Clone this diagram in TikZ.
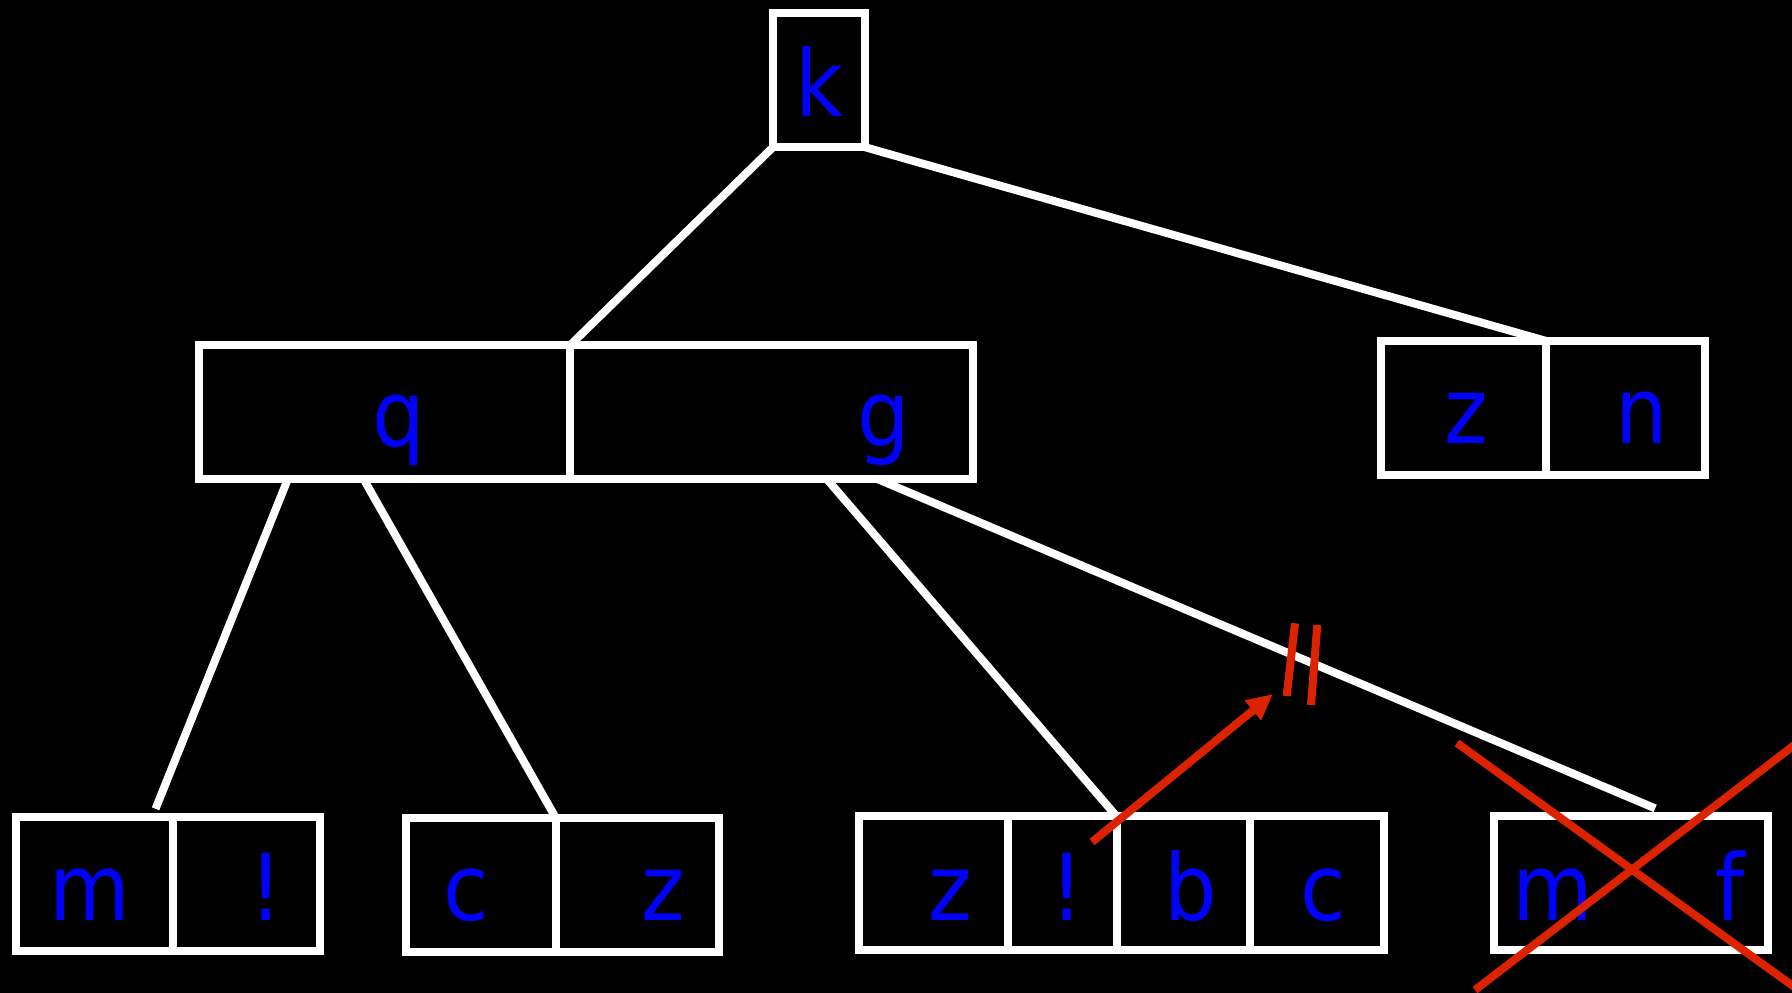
\documentclass[tikz,border=0pt]{standalone}
\usepackage{fontspec}
\setmainfont{DejaVu Sans}
\newfontfamily\treefont[FakeStretch=0.9]{DejaVu Sans}
\usetikzlibrary{arrows.meta,positioning,calc}
\definecolor{keyblue}{RGB}{0,0,255}
\definecolor{markred}{RGB}{221,34,0}

\begin{document}
\begin{tikzpicture}[
  x=1pt,y=-1pt,
  cell/.style={draw=white,line width=8pt,outer sep=0pt,inner sep=0pt,minimum height=134pt},
  key/.style={text=keyblue,font=\treefont\fontsize{92}{110}\selectfont,anchor=base,inner sep=0pt},
  edge/.style={draw=white,line width=8pt},
  redline/.style={draw=markred,line width=8pt},
  arr/.style={redline,-{Triangle[length=26pt,width=24pt]}}
]
\fill[black] (0,0) rectangle (1792,993);
\clip (0,0) rectangle (1792,993);

% ---------- root ----------
\node[cell,minimum width=92pt,minimum height=134pt] (kk) at (819,80.2) {};
\node[key] (tk) at (819,116) {k};

% ---------- second level ----------
\node[cell,minimum width=371.3pt] (q) at (384.4,412.3) {};
\node[cell,minimum width=403.2pt,right=0pt of q] (g) {};
\node[key] (tq) at (398.6,446) {q};
\node[key] (tg) at (883.3,446) {g};

\node[cell,minimum width=165.7pt] (z1) at (1463.4,408) {};
\node[cell,minimum width=158.8pt,right=0pt of z1] (n) {};
\node[key] (tz1) at (1466,443) {z};
\node[key] (tn) at (1642,443) {n};

% ---------- leaves ----------
\node[cell,minimum width=156.7pt] (m1) at (94.2,883.8) {};
\node[cell,minimum width=147.5pt,right=0pt of m1] (e1) {};
\node[key] (tm1) at (90,920) {m};
\node[key] (te1) at (265.7,920) {!};

\node[cell,minimum width=149.8pt] (c1) at (481.1,885.3) {};
\node[cell,minimum width=163.4pt,right=0pt of c1] (z2) {};
\node[key] (tc1) at (466,920) {c};
\node[key] (tz2) at (663,920) {z};

\node[cell,minimum width=148.6pt] (z3) at (933.7,883.4) {};
\node[cell,minimum width=108.6pt,right=0pt of z3] (e2) {};
\node[cell,minimum width=133.4pt,right=0pt of e2] (b) {};
\node[cell,minimum width=134pt,right=0pt of b] (c2) {};
\node[key] (tz3) at (950,920) {z};
\node[key] (te2) at (1067.5,920) {!};
\node[key] (tb) at (1190.5,920) {b};
\node[key] (tc2) at (1323,920) {c};

\node[cell,minimum width=274.2pt] (mf) at (1631.3,883.4) {};
\node[key] (tm2) at (1553,920) {m};
\node[key] (tf) at (1730,920) {f};

% ---------- edges ----------
\draw[edge] (kk.south west) -- (q.north east);
\draw[edge] (kk.south east) -- (z1.north east);
\draw[edge] ($(q.south west)+(89,0)$) -- ($(m1.north east)+(-17,-8)$);
\draw[edge] ($(q.south west)+(165,0)$) -- (c1.north east);
\draw[edge] ($(g.south west)+(257,0)$) -- (e2.north east);
\draw[edge] ($(g.south west)+(308,0)$) -- ($(mf.north west)+(161,-8)$);

% ---------- red marks ----------
\coordinate (cut1a) at (1295,623.3);
\coordinate (cut1b) at (1286.7,696);
\coordinate (cut2a) at (1317.3,625);
\coordinate (cut2b) at (1311,705);
\draw[redline] (cut1a) -- (cut1b);
\draw[redline] (cut2a) -- (cut2b);

\coordinate (tail) at (1092,842);
\coordinate (tip) at (1273,694);
\draw[arr] (tail) -- (tip);

\coordinate (xa1) at (1457,743);
\coordinate (xa2) at (1803,993.3);
\coordinate (xb1) at (1475,990);
\coordinate (xb2) at (1803,738.4);
\draw[redline] (xa1) -- (xa2);
\draw[redline] (xb1) -- (xb2);

\end{tikzpicture}
\end{document}
